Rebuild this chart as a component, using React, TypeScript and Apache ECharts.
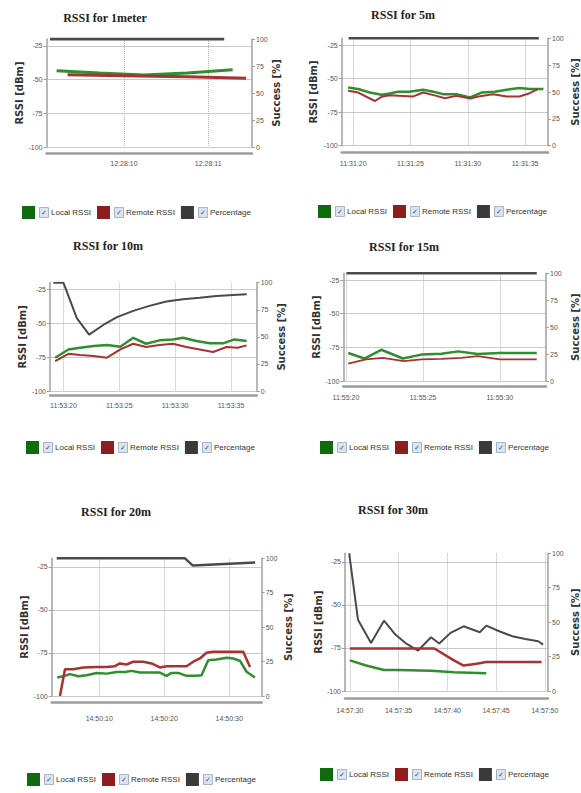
import React, { useEffect, useRef } from 'react';
import * as echarts from 'echarts';

// ---------- data ----------
const seriesNames = ['Local RSSI', 'Remote RSSI', 'Percentage'];
const titles = ['RSSI for 1meter', 'RSSI for 5m', 'RSSI for 10m', 'RSSI for 15m', 'RSSI for 20m', 'RSSI for 30m'];
const timeBases = ['12:28:', '11:31:', '11:53:', '11:55:', '14:50:', '14:57:'];
const rssiTicks = [-100, -75, -50, -25];
const pctTicks = [0, 25, 50, 75, 100];

// 1 meter (seconds after 12:28:00)
const p1Ticks = [10, 11];
const p1Local = [[9.2, -43.5], [9.71, -45.2], [10.23, -46.7], [10.75, -45.2], [11.29, -42.8]];
const p1Remote = [[9.33, -46.5], [10.0, -47.2], [10.75, -48.0], [11.45, -49.0]];
const p1Pct = [[9.12, 100], [11.19, 100]];

// 5 m (seconds after 11:31:00)
const p2Ticks = [20, 25, 30, 35];
const p2Local = [[19.56, -56.6], [20.44, -57.8], [21.45, -60.4], [22.47, -62.1], [23.2, -61.1], [23.9, -59.8], [24.9, -59.8], [26.1, -58.3], [27.0, -59.8], [27.85, -61.6], [29.0, -61.6], [30.2, -64.1], [31.2, -60.4], [32.35, -59.8], [33.4, -58.3], [34.5, -57.1], [35.4, -57.8], [36.6, -57.8]];
const p2Remote = [[19.56, -59.1], [20.44, -60.4], [21.9, -66.7], [22.47, -63.6], [23.2, -62.4], [24.36, -62.9], [25.2, -63.4], [26.1, -60.4], [27.27, -62.9], [28.0, -64.6], [29.0, -62.9], [30.2, -64.9], [31.2, -62.9], [32.2, -61.6], [33.4, -63.4], [34.5, -63.4], [35.4, -60.9], [36.1, -57.8]];
const p2Pct = [[19.6, 100], [36.2, 100]];

// 10 m (seconds after 11:53:00)
const p3Ticks = [20, 25, 30, 35];
const p3Local = [[19.26, -75.4], [20.45, -69.3], [21.5, -68.0], [22.7, -66.8], [23.9, -66.1], [25.1, -67.3], [26.25, -60.7], [27.4, -65.1], [28.6, -62.6], [29.8, -61.9], [30.7, -60.7], [31.9, -63.1], [33.1, -64.8], [34.3, -64.8], [35.3, -61.9], [36.4, -63.1]];
const p3Remote = [[19.26, -77.9], [20.45, -72.5], [21.5, -73.4], [22.7, -74.2], [23.9, -75.4], [25.1, -69.3], [26.25, -65.1], [27.4, -67.5], [28.6, -66.1], [29.8, -65.1], [31.0, -67.5], [32.2, -69.3], [33.4, -71.2], [34.6, -67.5], [35.6, -68.0], [36.4, -66.3]];
const p3Pct = [[19.1, 100], [20.0, 100], [21.2, 67.3], [22.3, 52], [23.6, 61.2], [24.8, 68.2], [26.25, 74], [27.7, 78.6], [29.2, 82.6], [30.7, 84.7], [32.2, 86.2], [33.7, 87.8], [35.2, 88.7], [36.4, 89.3]];

// 15 m (seconds after 11:55:00)
const p4Ticks = [20, 25, 30];
const p4Local = [[20.15, -79.2], [21.2, -83.3], [22.3, -76.8], [23.7, -83.3], [24.9, -80.4], [26.2, -79.7], [27.3, -78.0], [28.55, -79.9], [30.0, -79.2], [31.3, -79.2], [32.4, -79.2]];
const p4Remote = [[20.15, -87.1], [21.3, -84.0], [22.4, -82.8], [23.77, -85.2], [24.9, -84.0], [26.2, -83.5], [27.5, -82.8], [28.55, -81.6], [30.0, -84.0], [31.3, -84.0], [32.4, -84.0]];
const p4Pct = [[20.04, 100], [32.4, 100]];

// 20 m (seconds after 14:50:00)
const p5Ticks = [10, 20, 30];
const p5Local = [[3.54, -89.3], [4.46, -88.5], [5.49, -87.3], [6.77, -88.5], [8.05, -87.9], [9.59, -86.6], [11.13, -87.0], [12.67, -86.0], [13.95, -86.0], [14.97, -85.4], [16.26, -86.4], [17.8, -86.4], [19.33, -86.4], [20.36, -88.3], [21.13, -86.6], [22.15, -86.6], [23.44, -88.3], [24.97, -88.3], [25.74, -87.9], [26.77, -79.2], [28.05, -78.8], [29.59, -77.8], [30.62, -78.2], [31.64, -79.5], [32.67, -85.9], [33.95, -89.3]];
const p5Remote = [[3.95, -100], [4.72, -84.4], [6.0, -84.4], [7.54, -83.4], [9.59, -83.1], [11.13, -83.1], [12.4, -82.7], [13.18, -81.1], [14.2, -81.7], [15.23, -80.1], [16.77, -80.1], [18.05, -81.1], [19.33, -83.4], [20.36, -82.7], [22.4, -82.7], [23.44, -82.7], [24.46, -80.1], [25.5, -78.2], [26.5, -74.9], [27.5, -74.3], [30.6, -74.3], [32.15, -74.3], [33.2, -83.1]];
const p5Pct = [[3.45, 100], [23.2, 100], [24.4, 94.7], [34.0, 96.9]];

// 30 m (seconds after 14:57:00)
const p6Ticks = [30, 35, 40, 45, 50];
const p6Local = [[30, -82.2], [31.67, -85.2], [33.5, -87.8], [35, -87.8], [38.33, -88.2], [40.67, -89.1], [44, -89.7]];
const p6Remote = [[30, -75.3], [34, -75.3], [38.67, -75.3], [40.67, -82.2], [41.67, -85.2], [43, -84.2], [44, -83.2], [47.33, -83.2], [49.67, -83.2]];
const p6Pct = [[29.93, 100], [30.83, 51.8], [32.17, 34.9], [33.5, 51.1], [34.67, 41.0], [35.83, 34.2], [37.0, 29.4], [38.33, 39.0], [39.17, 34.5], [40.33, 42.2], [41.67, 47.0], [43.33, 42.7], [44.0, 47.5], [45.33, 43.4], [46.67, 39.8], [48.0, 37.8], [49.33, 36.1], [49.83, 33.7]];

// ---------- layout / style ----------
const panelData = [
  { ticks: p1Ticks, local: p1Local, remote: p1Remote, pct: p1Pct },
  { ticks: p2Ticks, local: p2Local, remote: p2Remote, pct: p2Pct },
  { ticks: p3Ticks, local: p3Local, remote: p3Remote, pct: p3Pct },
  { ticks: p4Ticks, local: p4Local, remote: p4Remote, pct: p4Pct },
  { ticks: p5Ticks, local: p5Local, remote: p5Remote, pct: p5Pct },
  { ticks: p6Ticks, local: p6Local, remote: p6Remote, pct: p6Pct },
];

const layouts = [
  { l: 46.5, t: 39, r: 252, b: 147, xMin: 9.08, xMax: 11.52, off: 6, lm: 7, lgX: 22, lgY: 206, tX: 105, tY: 18, gL: 21, gR: 18, w: [3, 3, 3] },
  { l: 341.7, t: 38.3, r: 548, b: 145.7, xMin: 19.0, xMax: 37.0, off: 7, lm: 7, lgX: 318, lgY: 205, tX: 403, tY: 15, gL: 23, gR: 22, w: [2.5, 2, 2.5] },
  { l: 50, t: 282.7, r: 256.7, b: 391, xMin: 18.8, xMax: 37.3, off: 4, lm: 7, lgX: 26, lgY: 441, tX: 108, tY: 246, gL: 23, gR: 20, w: [2.5, 2, 2] },
  { l: 343.3, t: 273.3, r: 549.3, b: 381, xMin: 19.83, xMax: 33.0, off: 5, lm: 8, lgX: 320, lgY: 441, tX: 404, tY: 247, gL: 18, gR: 24, w: [2.5, 1.8, 2.5] },
  { l: 51.7, t: 558.3, r: 261.7, b: 696, xMin: 2.68, xMax: 35.0, off: 6, lm: 13, lgX: 27, lgY: 773, tX: 116, tY: 512, gL: 22, gR: 22, w: [2.5, 2.5, 2.5] },
  { l: 345, t: 553.3, r: 553.3, b: 691, xMin: 29.5, xMax: 50.33, off: 7, lm: 9, lgX: 320, lgY: 768, tX: 393, tY: 510, gL: 22, gR: 22, w: [2.5, 2.5, 2] },
];

const lineColors = ['#2f8f2f', '#a83232', '#4a4a4a'];
const legendColors = ['#0e6b0e', '#8e1d1d', '#3a3a3a'];

const pad = (v: number) => {
  const r = Math.round(v);
  return (r < 10 ? '0' : '') + r;
};

function buildOption() {
  const grid: any[] = [];
  const xAxis: any[] = [];
  const yAxis: any[] = [];
  const series: any[] = [];
  const legend: any[] = [];
  const graphic: any[] = [];

  layouts.forEach((L, i) => {
    const P = panelData[i];
    grid.push({ left: L.l, top: L.t, width: L.r - L.l, height: L.b - L.t, containLabel: false });
    xAxis.push({
      type: 'value',
      gridIndex: i,
      min: L.xMin,
      max: L.xMax,
      offset: L.off,
      axisLine: { show: true, onZero: false, lineStyle: { color: '#9c9c9c', width: 2.5 } },
      axisTick: { show: false, customValues: P.ticks },
      axisLabel: {
        customValues: P.ticks,
        formatter: (v: number) => timeBases[i] + pad(v),
        fontSize: 7,
        color: '#555',
        margin: L.lm,
        fontFamily: 'Liberation Sans',
      },
      splitLine: { show: true, lineStyle: { color: '#b5b5b5', type: 'dotted', width: 1 } },
    });
    yAxis.push({
      type: 'value',
      gridIndex: i,
      position: 'left',
      min: -100,
      max: -20,
      name: 'RSSI [dBm]',
      nameLocation: 'middle',
      nameGap: L.gL,
      nameRotate: 90,
      nameTextStyle: { fontSize: 10, fontWeight: 'bold', color: '#333', fontFamily: 'DejaVu Sans' },
      axisLine: { show: true, onZero: false, lineStyle: { color: '#a0a0a0', width: 1.5 } },
      axisTick: { show: true, length: 3, customValues: rssiTicks, lineStyle: { color: '#a0a0a0' } },
      axisLabel: { customValues: rssiTicks, fontSize: 7, color: '#555', margin: 4, fontFamily: 'Liberation Sans' },
      splitLine: { show: true, lineStyle: { color: '#cacaca', width: 1 } },
    });
    yAxis.push({
      type: 'value',
      gridIndex: i,
      position: 'right',
      min: 0,
      max: 100,
      name: 'Success [%]',
      nameLocation: 'middle',
      nameGap: L.gR,
      nameRotate: 90,
      nameTextStyle: { fontSize: 10, fontWeight: 'bold', color: '#333', fontFamily: 'DejaVu Sans' },
      axisLine: { show: true, onZero: false, lineStyle: { color: '#a0a0a0', width: 1.5 } },
      axisTick: { show: true, length: 3, customValues: pctTicks, lineStyle: { color: '#a0a0a0' } },
      axisLabel: { customValues: pctTicks, fontSize: 7, color: '#555', margin: 4, fontFamily: 'Liberation Sans' },
      splitLine: { show: false },
    });
    const dataSets = [P.local, P.remote, P.pct];
    dataSets.forEach((d, k) => {
      series.push({
        type: 'line',
        name: seriesNames[k],
        xAxisIndex: i,
        yAxisIndex: k === 2 ? 2 * i + 1 : 2 * i,
        data: d,
        showSymbol: false,
        symbol: 'none',
        color: lineColors[k],
        lineStyle: { color: lineColors[k], width: L.w[k] },
        silent: true,
        z: k === 2 ? 1 : 2,
      });
    });
    legend.push({
      left: L.lgX,
      top: L.lgY,
      orient: 'horizontal',
      itemWidth: 13,
      itemHeight: 13,
      itemGap: 6,
      icon: 'rect',
      selectedMode: false,
      padding: 0,
      data: seriesNames.map((n, k) => ({ name: n, itemStyle: { color: legendColors[k], borderWidth: 0 } })),
      formatter: (name: string) => '{cb|\u2713}{t|' + name + '}',
      textStyle: {
        rich: {
          cb: {
            width: 8,
            height: 9,
            lineHeight: 9,
            align: 'center',
            backgroundColor: '#dce4ee',
            borderColor: '#8fa0b5',
            borderWidth: 0.8,
            color: '#2a52a8',
            fontSize: 7,
            fontFamily: 'DejaVu Sans',
          },
          t: { fontSize: 8, color: '#333', padding: [0, 0, 0, 3], fontFamily: 'Liberation Sans' },
        },
      },
    });
    graphic.push({
      type: 'text',
      x: L.tX,
      y: L.tY,
      silent: true,
      style: {
        text: titles[i],
        align: 'center',
        verticalAlign: 'middle',
        fontSize: 12,
        fontWeight: 'bold',
        fontFamily: 'Liberation Serif',
        fill: '#222',
      },
    });
  });

  return {
    animation: false,
    backgroundColor: '#ffffff',
    grid,
    xAxis,
    yAxis,
    series,
    legend,
    graphic,
  };
}

export default function App() {
  const ref = useRef<HTMLDivElement>(null);
  useEffect(() => {
    if (!ref.current) return;
    const chart = echarts.init(ref.current, undefined, { renderer: 'svg' });
    chart.setOption(buildOption() as any);
    return () => chart.dispose();
  }, []);
  return (
    <div
      ref={ref}
      style={{ position: 'absolute', left: 0, top: 0, width: 581, height: 793, background: '#fff' }}
    />
  );
}
